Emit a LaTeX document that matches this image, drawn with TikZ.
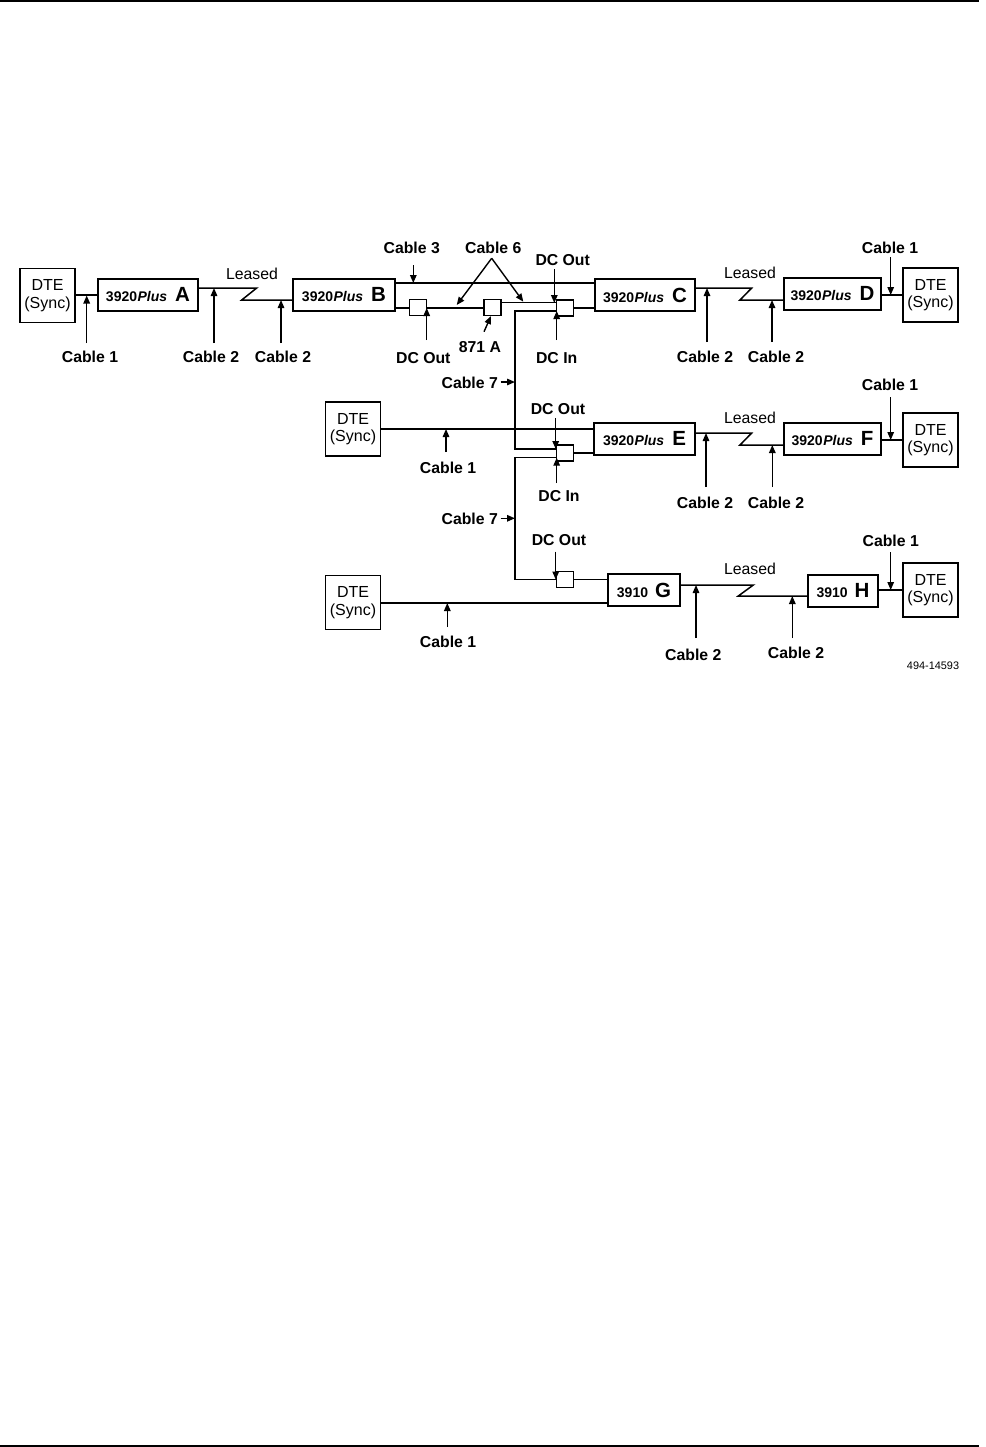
\documentclass[tikz,border=0pt]{standalone}
\usepackage{fontspec}
\setmainfont{Liberation Sans}
\usetikzlibrary{arrows.meta}
\newcommand\devlbl[2]{#1\kern0.5pt\textit{Plus}\hspace{8pt}{\fontsize{20.5}{20}\selectfont #2}}
\newcommand\oldlbl[1]{3910\hspace{7pt}{\fontsize{20.5}{20}\selectfont #1}}
\begin{document}
\begin{tikzpicture}[x=1pt,y=-1pt,
  box/.style={draw, line width=1.6pt, inner sep=0pt, fill=white},
  dte/.style={box, minimum width=55pt, minimum height=54pt, align=center, font=\fontsize{16}{17.5}\selectfont},
  dev/.style={box, minimum height=32pt, font=\fontsize{14}{16}\selectfont\bfseries},
  dc/.style={box, minimum width=17pt, minimum height=16pt},
  wire/.style={line width=1.5pt},
  arr/.style={line width=1.4pt, -{Triangle[length=8pt,width=6.5pt]}},
  lab/.style={inner sep=0pt, font=\fontsize{15.8}{18}\selectfont\bfseries},
  leased/.style={inner sep=0pt, font=\fontsize{15.8}{18}\selectfont},
  figno/.style={inner sep=0pt, font=\fontsize{10.9}{12}\selectfont}]
\useasboundingbox (0,0) rectangle (985,1447);
\draw[line width=2pt] (0,1) -- (979,1);
\draw[line width=2pt] (0,1446) -- (979,1446);

% ---------- boxes ----------
\node[dte] (t1) at (47.5,295.5) {DTE\\(Sync)};
\node[dev, minimum width=100pt] (A) at (148,295) {\devlbl{3920}{A}};
\node[dev, minimum width=102pt] (B) at (344,295) {\devlbl{3920}{B}};
\node[dev, minimum width=100pt] (C) at (645,295) {\devlbl{3920}{C}};
\node[dev, minimum width=97pt] (D) at (832.5,294) {\devlbl{3920}{D}};
\node[dte] (t4) at (930.5,295) {DTE\\(Sync)};

\node[dte] (t2) at (353,429) {DTE\\(Sync)};
\node[dev, minimum width=101pt] (E) at (644.5,439) {\devlbl{3920}{E}};
\node[dev, minimum width=97pt] (F) at (832.5,439) {\devlbl{3920}{F}};
\node[dte] (t5) at (930.5,440) {DTE\\(Sync)};

\node[dte] (t3) at (353,602.5) {DTE\\(Sync)};
\node[dev, minimum width=72pt] (G) at (644,590) {\oldlbl{G}};
\node[dev, minimum width=70pt] (H) at (843,591) {\oldlbl{H}};
\node[dte] (t6) at (930.5,590) {DTE\\(Sync)};

\node[dc] (dc1) at (418,307.5) {};
\node[dc] (amp) at (492.5,307.5) {};
\node[dc] (dc3) at (565,308) {};
\node[dc] (dcE) at (565,453) {};
\node[dc] (dcG) at (565,579.5) {};

% ---------- wires row 1 ----------
\draw[wire] (A.west -| t1.east) -- (A.west);
\draw[wire] (A.east |- 0,288) -- (256.7,288) -- (241.7,300) -- (B.west |- 0,300);
\draw[wire] (B.east |- 0,283) -- (C.west |- 0,283);
\draw[wire] (B.east |- 0,308) -- (dc1.west |- 0,308);
\draw[wire] (dc1.east |- 0,308) -- (amp.west |- 0,308);
\draw[wire] (amp.east |- 0,302.7) -- (dc3.west |- 0,302.7);
\draw[wire] (dc3.east |- 0,308) -- (C.west |- 0,308);
\draw[wire] (C.east |- 0,288) -- (751.7,288) -- (740,300) -- (D.west |- 0,300);
\draw[wire] (D.east |- 0,295) -- (t4.west |- 0,295);
% Cable 7 runs
\draw[wire] (dc3.west |- 0,311) -- (515,311) -- (515,449) -- (dcE.west |- 0,449);
\draw[wire] (dcE.west |- 0,457.7) -- (515,457.7) -- (515,579.5) -- (dcG.west);
\draw[wire] (dcE.east) -- (E.west |- dcE.east);
\draw[wire] (dcG.east) -- (G.west |- dcG.east);
% ---------- wires row 2 ----------
\draw[wire] (t2.east |- 0,429) -- (E.west |- 0,429);
\draw[wire] (E.east |- 0,433) -- (751.7,433) -- (740,445) -- (F.west |- 0,445);
\draw[wire] (F.east |- 0,440) -- (t5.west |- 0,440);
% ---------- wires row 3 ----------
\draw[wire] (t3.east |- 0,603) -- (G.west |- 0,603);
\draw[wire] (G.east |- 0,585) -- (753.3,585) -- (738.3,596) -- (H.west |- 0,596);
\draw[wire] (H.east |- 0,590) -- (t6.west |- 0,590);

% ---------- labels row 1 ----------
\node[lab] (lc1a) at (90,357) {Cable 1};
\node[lab] (lc2a) at (211,357) {Cable 2};
\node[lab] (lc2b) at (283,357) {Cable 2};
\node[leased] (ls1) at (252,274) {Leased};
\node[lab] (lc3) at (411.7,248) {Cable 3};
\node[lab] (lc6) at (493.3,248) {Cable 6};
\node[lab] (ldo1) at (423.3,358) {DC Out};
\node[lab] (l871) at (480,346.7) {871 A};
\node[lab] (ldo3) at (562.7,260) {DC Out};
\node[lab] (ldi3) at (556.7,358) {DC In};
\node[leased] (ls2) at (750,273) {Leased};
\node[lab] (lc2c) at (705,357) {Cable 2};
\node[lab] (lc2d) at (776,357) {Cable 2};
\node[lab] (lc1d) at (890,247.7) {Cable 1};
% ---------- labels row 2 ----------
\node[lab, anchor=east] (lc7a) at (498,383) {Cable 7};
\node[lab] (lc1e) at (448,467.7) {Cable 1};
\node[lab] (ldoE) at (558,409) {DC Out};
\node[lab] (ldiE) at (559,496) {DC In};
\node[leased] (ls3) at (750,418) {Leased};
\node[lab] (lc2e) at (705,503) {Cable 2};
\node[lab] (lc2f) at (776,503) {Cable 2};
\node[lab] (lc1f) at (890,385) {Cable 1};
\node[lab, anchor=east] (lc7b) at (498,519) {Cable 7};
% ---------- labels row 3 ----------
\node[lab] (lc1g) at (448,641.7) {Cable 1};
\node[lab] (ldoG) at (559,540) {DC Out};
\node[leased] (ls4) at (750,569.3) {Leased};
\node[lab] (lc2g) at (693.3,655) {Cable 2};
\node[lab] (lc2h) at (796,653) {Cable 2};
\node[lab] (lc1h) at (890.7,540.7) {Cable 1};
\node[figno] (fig) at (933,666) {494-14593};

% ---------- arrows row 1 ----------
\draw[arr] (86.7,343) -- (86.7,295.5);
\draw[arr] (214,343) -- (214,288);
\draw[arr] (281,343) -- (281,300);
\draw[arr] (413.3,265) -- (413.3,283);
\draw[arr] (491.7,258.3) -- (456.7,305);
\draw[arr] (491.7,258.3) -- (523.3,301.7);
\draw[arr] (426.7,340) -- (426.7,308);
\draw[arr] (484,331.7) -- (491,316);
\draw[arr] (554.3,269) -- (554.3,303);
\draw[arr] (556.7,340) -- (556.7,311);
\draw[arr] (707,342) -- (707,288);
\draw[arr] (772,342) -- (772,300);
\draw[arr] (890.7,257) -- (890.7,295);
% ---------- arrows row 2 ----------
\draw[arr] (500.5,382) -- (515,382);
\draw[arr] (446,452) -- (446,429);
\draw[arr] (555.7,418) -- (555.7,449);
\draw[arr] (556.7,483) -- (556.7,457.7);
\draw[arr] (706,487) -- (706,433);
\draw[arr] (772.3,487) -- (772.3,445);
\draw[arr] (890.7,397) -- (890.7,440);
\draw[arr] (500.5,518.3) -- (515,518.3);
% ---------- arrows row 3 ----------
\draw[arr] (447.3,627) -- (447.3,603);
\draw[arr] (555.7,551.7) -- (555.7,579.5);
\draw[arr] (696,638) -- (696,585);
\draw[arr] (792.3,638) -- (792.3,596);
\draw[arr] (890.7,552) -- (890.7,590);
\end{tikzpicture}
\end{document}
